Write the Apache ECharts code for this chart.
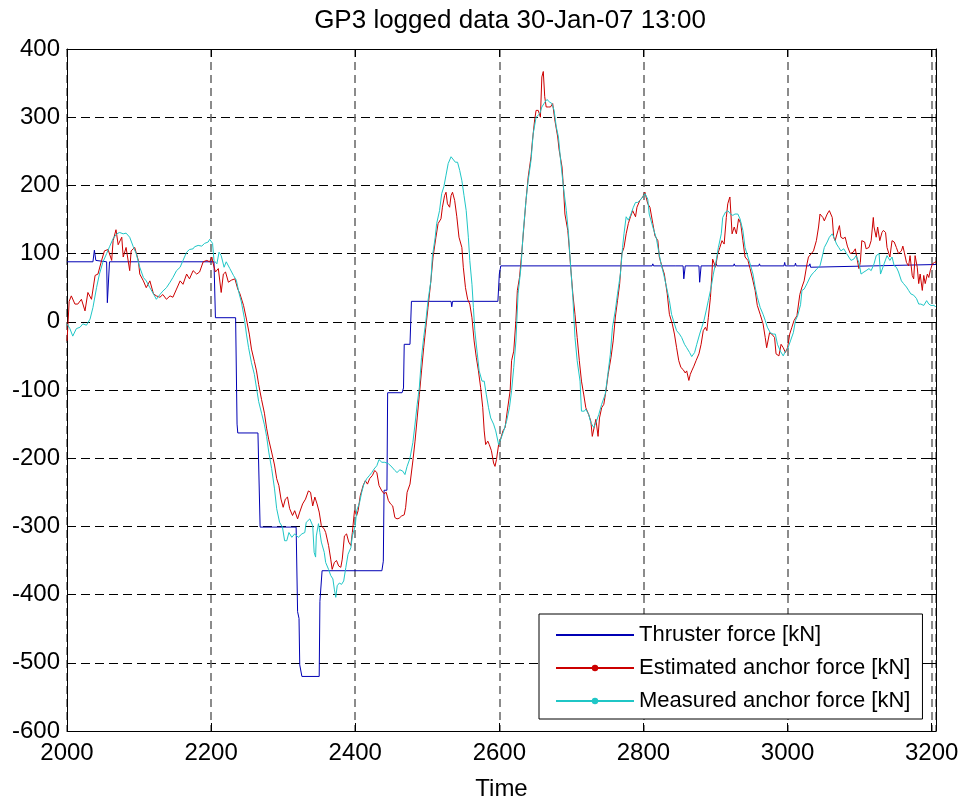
<!DOCTYPE html>
<html>
<head>
<meta charset="utf-8">
<script src="https://cdn.jsdelivr.net/npm/echarts@6/dist/echarts.min.js"></script>
<style>
  html, body { margin: 0; padding: 0; background: #fff; }
  #chart { width: 963px; height: 801px; }
</style>
</head>
<body>
<div id="chart"></div>
<script>
// [time, kN]
const thrusterForce = [
  [2000, 88], [2036, 88], [2038, 105], [2040, 90], [2042, 88], [2055, 88], [2056, 28], [2059, 88],
  [2204, 88], [2206, 6], [2234, 6], [2236, -150], [2237, -163], [2265, -163], [2268, -301],
  [2318, -301], [2320, -425], [2322, -435], [2323, -503], [2326, -520], [2350, -520], [2351, -410],
  [2354, -365], [2437, -365], [2439, -351], [2440, -247], [2444, -247], [2445, -104], [2465, -104],
  [2467, -97], [2468, -33], [2476, -33], [2478, 30], [2533, 30], [2534, 22], [2535, 30], [2598, 30],
  [2600, 70], [2602, 82], [2812, 82], [2813, 85], [2814, 82], [2845, 82], [2846, 84], [2847, 82],
  [2855, 82], [2856, 63], [2858, 82], [2877, 82], [2878, 58], [2880, 82], [2900, 82], [2901, 85],
  [2902, 82], [2925, 82], [2926, 85], [2927, 82], [2960, 82], [2961, 85], [2962, 82], [2995, 82],
  [2996, 87], [2997, 82], [3010, 82], [3011, 86], [3012, 82], [3030, 82], [3031, 85], [3032, 80],
  [3033, 82], [3206, 84]
];

const estimatedForce = [
  [2000, -28], [2001, -10], [2003, 30], [2006, 38], [2011, 26], [2015, 26], [2020, 33], [2025, 16],
  [2029, 43], [2034, 33], [2039, 68], [2043, 70], [2048, 90], [2052, 104], [2057, 106], [2062, 90],
  [2064, 119], [2068, 135], [2071, 113], [2076, 124], [2078, 95], [2082, 109], [2087, 75], [2089, 104],
  [2094, 109], [2099, 90], [2101, 70], [2106, 60], [2110, 50], [2115, 60], [2120, 41], [2124, 38],
  [2129, 36], [2133, 40], [2138, 33], [2143, 38], [2147, 36], [2152, 48], [2157, 60], [2161, 55],
  [2166, 70], [2170, 63], [2175, 75], [2180, 70], [2184, 73], [2189, 88], [2194, 90], [2198, 88],
  [2201, 95], [2203, 85], [2206, 73], [2210, 78], [2214, 43], [2217, 70], [2220, 73], [2224, 58],
  [2228, 61], [2233, 63], [2237, 48], [2240, 41], [2245, 24], [2249, 4], [2253, -18], [2256, -40],
  [2260, -58], [2263, -72], [2266, -92], [2270, -114], [2274, -134], [2277, -156], [2280, -173],
  [2284, -191], [2288, -210], [2291, -230], [2294, -240], [2297, -260], [2300, -272], [2303, -260],
  [2306, -257], [2309, -274], [2313, -284], [2316, -277], [2320, -289], [2323, -279], [2327, -267],
  [2331, -260], [2335, -248], [2338, -250], [2341, -270], [2344, -257], [2347, -267], [2350, -279],
  [2353, -299], [2357, -304], [2359, -309], [2363, -328], [2366, -348], [2368, -363], [2371, -353],
  [2374, -350], [2377, -358], [2380, -360], [2382, -348], [2385, -314], [2388, -311], [2391, -323],
  [2394, -328], [2396, -309], [2399, -277], [2402, -284], [2404, -277], [2407, -255], [2411, -240],
  [2414, -233], [2417, -238], [2420, -230], [2424, -225], [2427, -218], [2430, -221], [2433, -240],
  [2437, -248], [2440, -252], [2443, -250], [2446, -262], [2449, -267], [2452, -270], [2455, -287],
  [2458, -289], [2461, -288], [2464, -285], [2468, -283], [2470, -272], [2472, -250], [2476, -238],
  [2480, -204], [2483, -175], [2486, -141], [2489, -107], [2492, -72], [2495, -38], [2498, -8],
  [2501, 21], [2505, 60], [2508, 95], [2512, 124], [2515, 144], [2519, 151], [2521, 168], [2524, 185],
  [2526, 190], [2528, 173], [2531, 168], [2533, 185], [2535, 190], [2538, 178], [2541, 154],
  [2544, 124], [2548, 109], [2550, 80], [2553, 50], [2556, 33], [2559, 26], [2562, 6], [2565, -28],
  [2568, -52], [2571, -72], [2574, -96], [2577, -126], [2579, -160], [2581, -180], [2584, -175],
  [2586, -180], [2589, -189], [2592, -207], [2594, -212], [2596, -202], [2599, -180], [2601, -175],
  [2605, -160], [2608, -155], [2611, -131], [2615, -101], [2617, -57], [2620, -43], [2623, 2],
  [2625, 46], [2628, 65], [2631, 100], [2634, 139], [2637, 178], [2640, 212], [2644, 242], [2646, 266],
  [2649, 296], [2651, 310], [2654, 310], [2657, 300], [2659, 359], [2661, 367], [2663, 330],
  [2665, 315], [2668, 315], [2671, 315], [2674, 320], [2677, 296], [2681, 271], [2683, 252],
  [2687, 227], [2689, 197], [2691, 158], [2695, 134], [2697, 109], [2699, 80], [2702, 41], [2705, 11],
  [2708, -23], [2711, -57], [2714, -87], [2717, -106], [2720, -126], [2724, -136], [2727, -146],
  [2729, -168], [2732, -153], [2734, -143], [2737, -168], [2739, -141], [2742, -126], [2745, -121],
  [2748, -101], [2751, -77], [2755, -52], [2758, -28], [2761, 7], [2764, 31], [2767, 56], [2770, 100],
  [2773, 109], [2776, 129], [2779, 144], [2782, 154], [2785, 163], [2789, 154], [2791, 168],
  [2795, 178], [2799, 183], [2802, 190], [2806, 173], [2809, 168], [2813, 144], [2816, 126],
  [2820, 119], [2822, 95], [2826, 80], [2829, 70], [2833, 41], [2836, 11], [2840, -3], [2843, -18],
  [2846, -38], [2849, -57], [2852, -67], [2855, -70], [2858, -75], [2860, -72], [2863, -86],
  [2865, -77], [2867, -72], [2870, -65], [2873, -57], [2877, -47], [2880, -33], [2883, -13],
  [2886, -8], [2888, -13], [2890, 6], [2893, 36], [2895, 70], [2896, 92], [2900, 80], [2903, 99],
  [2906, 109], [2909, 119], [2912, 114], [2915, 153], [2917, 173], [2919, 180], [2920, 183],
  [2923, 129], [2926, 139], [2929, 129], [2932, 151], [2935, 144], [2938, 119], [2941, 95], [2945, 90],
  [2948, 78], [2952, 60], [2955, 46], [2958, 24], [2962, 11], [2966, -3], [2969, -23], [2971, -38],
  [2975, -16], [2978, -18], [2982, -23], [2984, -47], [2988, -50], [2991, -33], [2994, -38],
  [2997, -45], [3000, -38], [3003, -18], [3006, -8], [3009, 2], [3013, 9], [3017, 40], [3020, 51],
  [3023, 60], [3027, 85], [3029, 95], [3033, 100], [3036, 104], [3040, 119], [3043, 139], [3045, 158],
  [3049, 153], [3051, 148], [3055, 158], [3058, 163], [3062, 153], [3064, 124], [3066, 119],
  [3070, 134], [3072, 141], [3074, 124], [3077, 122], [3080, 124], [3083, 111], [3087, 100],
  [3091, 102], [3094, 107], [3096, 95], [3099, 78], [3101, 87], [3103, 119], [3107, 117], [3109, 107],
  [3113, 109], [3116, 119], [3119, 153], [3120, 139], [3123, 124], [3125, 139], [3128, 119],
  [3131, 131], [3133, 134], [3136, 131], [3138, 109], [3142, 95], [3145, 119], [3148, 117],
  [3151, 109], [3154, 100], [3158, 104], [3160, 111], [3162, 102], [3165, 87], [3168, 82], [3170, 97],
  [3173, 68], [3175, 63], [3177, 97], [3180, 80], [3182, 56], [3184, 70], [3187, 46], [3189, 68],
  [3191, 56], [3194, 70], [3196, 65], [3198, 75], [3201, 85], [3204, 87], [3206, 88]
];

const measuredForce = [
  [2000, -3], [2004, -10], [2008, -21], [2013, -10], [2018, -8], [2022, -3], [2027, -5], [2032, 4],
  [2036, 21], [2041, 50], [2045, 70], [2050, 88], [2055, 100], [2059, 110], [2064, 122], [2069, 129],
  [2073, 131], [2078, 129], [2082, 130], [2087, 124], [2092, 110], [2096, 100], [2101, 80], [2106, 65],
  [2110, 60], [2115, 50], [2120, 41], [2124, 33], [2129, 40], [2133, 45], [2138, 50], [2143, 58],
  [2147, 65], [2152, 75], [2157, 80], [2161, 90], [2166, 102], [2170, 106], [2175, 107], [2177, 110],
  [2182, 112], [2187, 111], [2191, 115], [2196, 117], [2198, 121], [2202, 115], [2204, 90], [2208, 85],
  [2211, 102], [2214, 97], [2218, 80], [2221, 88], [2226, 78], [2231, 68], [2235, 61], [2239, 41],
  [2242, 29], [2246, 6], [2249, -18], [2252, -38], [2256, -60], [2260, -77], [2263, -97], [2266, -117],
  [2270, -134], [2274, -151], [2277, -168], [2280, -191], [2284, -215], [2288, -245], [2291, -274],
  [2295, -294], [2299, -301], [2302, -321], [2305, -321], [2308, -309], [2312, -316], [2316, -311],
  [2321, -316], [2326, -311], [2330, -309], [2332, -294], [2337, -289], [2341, -299], [2343, -338],
  [2345, -345], [2346, -314], [2349, -296], [2351, -309], [2353, -323], [2357, -338], [2359, -353],
  [2363, -363], [2366, -372], [2369, -377], [2371, -392], [2373, -404], [2375, -387], [2378, -383],
  [2381, -385], [2384, -380], [2387, -360], [2390, -341], [2394, -331], [2396, -314], [2400, -299],
  [2402, -277], [2406, -265], [2409, -250], [2412, -238], [2416, -230], [2420, -225], [2423, -221],
  [2426, -216], [2430, -211], [2433, -202], [2437, -206], [2441, -206], [2446, -208], [2451, -213],
  [2455, -218], [2458, -221], [2462, -217], [2466, -219], [2469, -224], [2472, -212], [2476, -200],
  [2480, -177], [2483, -150], [2486, -121], [2489, -96], [2492, -52], [2495, -23], [2498, 1],
  [2501, 31], [2505, 60], [2507, 95], [2511, 124], [2513, 144], [2517, 163], [2520, 188], [2523, 198],
  [2526, 215], [2529, 232], [2533, 242], [2535, 244], [2539, 234], [2542, 234], [2545, 222],
  [2548, 207], [2551, 185], [2554, 163], [2557, 124], [2559, 90], [2562, 55], [2564, 21], [2566, -13],
  [2569, -43], [2572, -72], [2576, -87], [2579, -87], [2582, -107], [2585, -126], [2588, -141],
  [2592, -150], [2595, -160], [2599, -180], [2601, -175], [2606, -160], [2610, -146], [2614, -126],
  [2617, -101], [2620, -67], [2623, -28], [2626, 41], [2630, 80], [2633, 129], [2637, 178], [2640, 207],
  [2644, 237], [2647, 276], [2651, 300], [2656, 305], [2659, 315], [2662, 320], [2666, 326],
  [2670, 322], [2673, 320], [2676, 310], [2679, 286], [2682, 271], [2685, 237], [2689, 197],
  [2693, 163], [2696, 129], [2699, 80], [2702, 36], [2705, -23], [2708, -57], [2712, -87],
  [2714, -131], [2718, -131], [2720, -128], [2724, -136], [2727, -148], [2731, -155], [2734, -148],
  [2738, -136], [2742, -121], [2747, -106], [2750, -82], [2754, -48], [2757, -8], [2761, 17],
  [2764, 41], [2768, 70], [2771, 109], [2773, 129], [2776, 154], [2779, 149], [2782, 156], [2786, 168],
  [2789, 175], [2792, 175], [2795, 178], [2799, 183], [2802, 188], [2806, 180], [2808, 158],
  [2813, 139], [2818, 122], [2821, 104], [2824, 87], [2828, 70], [2832, 51], [2836, 31], [2839, 11],
  [2843, -3], [2846, -13], [2850, -18], [2853, -23], [2857, -33], [2860, -38], [2864, -45],
  [2867, -51], [2871, -45], [2874, -33], [2878, -18], [2881, -8], [2884, 2], [2887, 16], [2890, 31],
  [2894, 51], [2897, 70], [2901, 90], [2904, 109], [2908, 129], [2910, 153], [2914, 161], [2917, 163],
  [2921, 158], [2924, 156], [2927, 158], [2931, 158], [2934, 151], [2938, 134], [2941, 109],
  [2945, 95], [2948, 85], [2952, 70], [2955, 51], [2958, 36], [2962, 21], [2966, 11], [2969, 2],
  [2972, -8], [2976, -16], [2980, -18], [2983, -18], [2986, -33], [2990, -43], [2994, -50],
  [2997, -43], [3000, -40], [3004, -28], [3008, -16], [3011, 2], [3014, 9], [3018, 25], [3020, 46],
  [3023, 48], [3027, 56], [3031, 65], [3034, 70], [3037, 73], [3041, 78], [3045, 82], [3048, 95],
  [3051, 109], [3055, 117], [3058, 124], [3062, 129], [3065, 122], [3068, 114], [3071, 109],
  [3074, 104], [3078, 107], [3082, 100], [3085, 95], [3088, 90], [3092, 92], [3095, 97], [3099, 87],
  [3102, 70], [3106, 73], [3109, 75], [3113, 78], [3116, 75], [3120, 85], [3123, 97], [3127, 100],
  [3129, 70], [3131, 68], [3134, 85], [3138, 97], [3142, 90], [3145, 95], [3148, 82], [3151, 80],
  [3154, 73], [3158, 60], [3161, 56], [3165, 51], [3168, 46], [3171, 41], [3175, 39], [3179, 34],
  [3182, 26], [3185, 26], [3189, 24], [3193, 31], [3196, 26], [3199, 24], [3203, 24], [3206, 22]
];

const seriesNames = ["Thruster force [kN]", "Estimated anchor force [kN]", "Measured anchor force [kN]"];
const seriesColors = ["#0000b4", "#cc0000", "#1fc6c6"];

const FONT = "Liberation Sans, Arial, Helvetica, sans-serif";
const xMin = 2000, xMax = 3206, yMin = -600, yMax = 400;

const chart = echarts.init(document.getElementById("chart"), null, { renderer: "canvas" });

function boxAxis(extra) {
  return Object.assign({
    type: "value",
    axisLine: { show: true, onZero: false, lineStyle: { color: "#000", width: 1 } },
    axisTick: { show: true, inside: true, length: 8, lineStyle: { color: "#000" } },
    axisLabel: { show: false },
    splitLine: { show: false },
  }, extra);
}

const plainNum = (v) => String(v);

const option = {
  animation: false,
  backgroundColor: "#fff",
  title: {
    text: "GP3 logged data 30-Jan-07 13:00",
    left: 505,
    top: 3,
    textAlign: "center",
    textStyle: { fontFamily: FONT, fontSize: 26, fontWeight: "normal", color: "#000" },
  },
  grid: { left: 67, top: 49, right: 27, bottom: 70, containLabel: false, outerBoundsMode: "none" },
  legend: {
    orient: "vertical",
    left: 539,
    top: 614,
    backgroundColor: "#fff",
    borderColor: "#000",
    borderWidth: 1,
    padding: [10, 12, 7, 16],
    itemGap: 11,
    itemWidth: 78,
    itemHeight: 8,
    textStyle: { fontFamily: FONT, fontSize: 22, color: "#000" },
    data: [
      { name: seriesNames[0], itemStyle: { opacity: 0 } },
      seriesNames[1],
      seriesNames[2],
    ],
  },
  xAxis: [
    boxAxis({
      min: xMin, max: xMax, interval: 200, position: "bottom",
      name: "Time", nameLocation: "middle", nameGap: 46,
      nameTextStyle: { fontFamily: FONT, fontSize: 24, color: "#000" },
      axisLabel: { show: true, margin: 10, fontFamily: FONT, fontSize: 24, color: "#000", formatter: plainNum },
      splitLine: { show: true, lineStyle: { color: "#666", width: 1.5, type: [8, 5] } },
    }),
    boxAxis({ min: xMin, max: xMax, interval: 200, position: "top" }),
  ],
  yAxis: [
    boxAxis({
      min: yMin, max: yMax, interval: 100, position: "left",
      axisLabel: { show: true, margin: 7, fontFamily: FONT, fontSize: 24, color: "#000", formatter: plainNum },
      splitLine: { show: true, lineStyle: { color: "#000", width: 1, type: [9, 5] } },
    }),
    boxAxis({ min: yMin, max: yMax, interval: 100, position: "right" }),
  ],
  series: [
    {
      name: seriesNames[0], type: "line", data: thrusterForce,
      symbol: "none", lineStyle: { width: 1, color: seriesColors[0] },
      itemStyle: { color: seriesColors[0] }, z: 2,
    },
    {
      name: seriesNames[1], type: "line", data: estimatedForce,
      symbol: "circle", symbolSize: 7, showSymbol: false,
      lineStyle: { width: 1, color: seriesColors[1] },
      itemStyle: { color: seriesColors[1] }, z: 3,
    },
    {
      name: seriesNames[2], type: "line", data: measuredForce,
      symbol: "circle", symbolSize: 7, showSymbol: false,
      lineStyle: { width: 1, color: seriesColors[2] },
      itemStyle: { color: seriesColors[2] }, z: 4,
    },
  ],
};

chart.setOption(option);
</script>
</body>
</html>
